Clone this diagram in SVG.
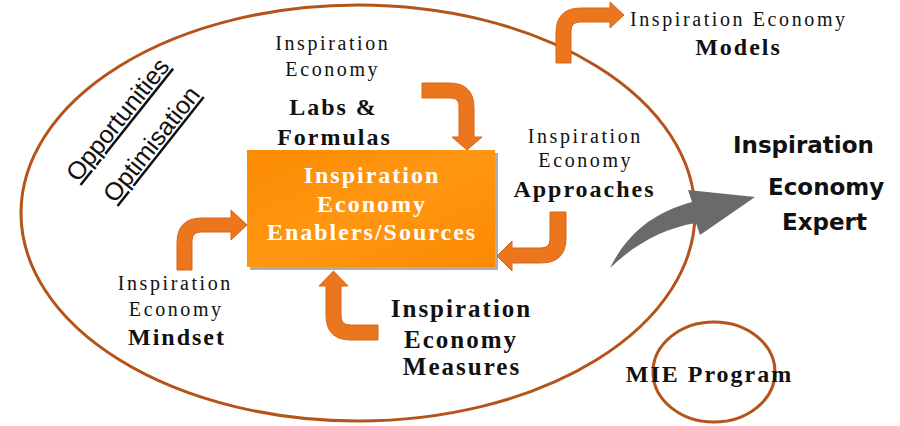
<svg xmlns="http://www.w3.org/2000/svg" width="900" height="426" viewBox="0 0 900 426">
<defs>
<style>
.ring{fill:none;stroke:#b5541a;stroke-width:3}
.arr{fill:#ec761d;stroke:#d4661a;stroke-width:1}
.sr{font-family:"Liberation Serif","Times New Roman",serif;fill:#111;text-anchor:middle}
.n{font-size:20px;letter-spacing:2.6px}
.b{font-size:24px;font-weight:bold;letter-spacing:2px}
.w{fill:#fff}
.cm{font-family:"DejaVu Sans",sans-serif;font-weight:bold;font-size:23px;fill:#111}
.ul{font-family:"Liberation Sans",Arial,sans-serif;font-size:25px;fill:#111;text-decoration:underline}
</style>
<linearGradient id="box" x1="0" y1="0" x2="1" y2="1">
<stop offset="0" stop-color="#fb8b02"/>
<stop offset="0.5" stop-color="#ff9612"/>
<stop offset="1" stop-color="#fb8a00"/>
</linearGradient>
</defs>
<rect width="900" height="426" fill="#fff"/>

<g id="boundary">
<ellipse class="ring" cx="358" cy="213" rx="337" ry="208"/>
</g>

<g id="mie-program">
<ellipse class="ring" cx="714" cy="372" rx="61" ry="50"/>
<text class="sr b" x="709.5" y="382">MIE Program</text>
</g>

<g id="enablers">
<rect x="250" y="153" width="248" height="117" fill="#8a8a8a" opacity="0.7"/>
<rect x="247" y="150" width="248" height="117" fill="url(#box)"/>
<text class="sr b w" x="372" y="183">Inspiration</text>
<text class="sr b w" x="372" y="212">Economy</text>
<text class="sr b w" x="372" y="240">Enablers/Sources</text>
</g>

<g id="labs">
<text class="sr n" x="332.8" y="50">Inspiration</text>
<text class="sr n" x="332.8" y="76">Economy</text>
<text class="sr b" x="333.5" y="115">Labs &amp;</text>
<text class="sr b" x="334.5" y="145">Formulas</text>
</g>

<g id="approaches">
<text class="sr n" x="585.3" y="143">Inspiration</text>
<text class="sr n" x="585.8" y="167">Economy</text>
<text class="sr b" x="584.5" y="197">Approaches</text>
</g>

<g id="models">
<text class="sr n" x="738.8" y="26">Inspiration Economy</text>
<text class="sr b" x="738.5" y="55">Models</text>
</g>

<g id="mindset">
<text class="sr n" x="175.3" y="290">Inspiration</text>
<text class="sr n" x="176.3" y="316">Economy</text>
<text class="sr b" x="177" y="345">Mindset</text>
</g>

<g id="measures">
<text class="sr b" x="461.5" y="317" style="font-size:25px">Inspiration</text>
<text class="sr b" x="461" y="348" style="font-size:25px">Economy</text>
<text class="sr b" x="462" y="375" style="font-size:25px">Measures</text>
</g>

<g id="expert">
<text class="cm" x="733" y="153">Inspiration</text>
<text class="cm" x="768" y="195">Economy</text>
<text class="cm" x="782" y="230">Expert</text>
</g>

<g id="opportunities">
<text class="ul" transform="translate(78,183) rotate(-51.5)">Opportunities</text>
<text class="ul" transform="translate(115,204) rotate(-51.7)">Optimisation</text>
</g>

<g id="connectors">
<path class="arr" d="M422,83 L449,83 Q474,83 474,108 L474,137 L482,137 L467,150 L452,137 L459,137 L459,106 Q459,98 451,98 L422,98 Z"/>
<path class="arr" d="M556,63 L556,33 Q556,8 581,8 L610,8 L610,2 L624,15 L610,28 L610,22 L580,22 Q571,22 571,31 L571,63 Z"/>
<path class="arr" d="M566,212 L566,238 Q566,263 541,263 L512,263 L512,271 L497,256 L512,241 L512,248 L541,248 Q550,248 550,239 L550,212 Z"/>
<path class="arr" d="M177,270 L177,243 Q177,218 202,218 L231,218 L231,210 L247,225 L231,240 L231,232 L201,232 Q192,232 192,241 L192,270 Z"/>
<path class="arr" d="M378,340 L351,340 Q326,340 326,315 L326,286 L319,286 L333.5,271 L348,286 L341,286 L341,316 Q341,325 350,325 L378,325 Z"/>
<path fill="#6a6a6a" d="M610,268 C628,232 655,212 692,202 L688,190 L755,197 L700,235 L696,223 C665,228 636,243 610,268 Z"/>
</g>
</svg>
